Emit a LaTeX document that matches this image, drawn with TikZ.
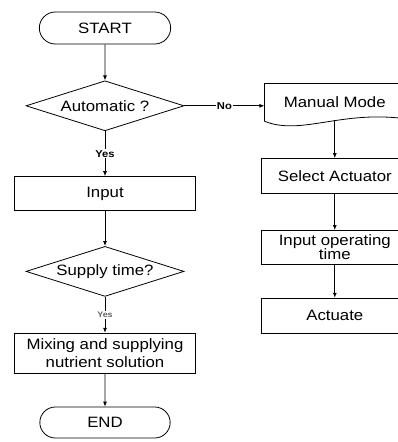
\documentclass[tikz,border=0pt]{standalone}
\usepackage{fontspec}
\setmainfont[FakeStretch=1.12]{Liberation Sans}
\usetikzlibrary{arrows.meta,positioning,shapes.geometric,shapes.misc}

\tikzset{
  every node/.style={font=\fontsize{15}{18}\selectfont},
  >={Latex[length=5pt,width=4pt]},
  terminal/.style={rounded rectangle, draw=black, minimum width=138pt, minimum height=32pt},
  process/.style={rectangle, draw=black, minimum width=181pt, minimum height=34pt, align=center},
  sideproc/.style={rectangle, draw=black, minimum width=146pt, minimum height=35pt, align=center},
  decision/.style={diamond, draw=black, aspect=3.16, minimum width=158pt, minimum height=50pt, inner sep=0pt},
  branch/.style={fill=white, inner sep=1pt, font=\fontsize{10}{12}\selectfont\bfseries},
  smallbranch/.style={fill=white, inner sep=1pt, text=black!60, font=\fontsize{8}{10}\selectfont\bfseries},
}

\begin{document}
\begin{tikzpicture}[line width=0.8pt]
  \useasboundingbox (-105pt,27pt) rectangle (292pt,-415pt);

  \node[terminal] (start) at (0,-1pt) {START};
  \node[decision, below=36pt of start] (auto) {Automatic ?};
  \node[process, below=45pt of auto] (input) {Input};
  \node[decision, below=35pt of input] (supply) {Supply time?};
  \node[process, below=36pt of supply, minimum height=40pt] (mix) {Mixing and supplying\\nutrient solution};
  \node[terminal, below=33pt of mix, minimum width=137pt, minimum height=31pt] (end) {END};

  % manual side, outline of the document box drawn by hand
  \node[sideproc, draw=none, right=80pt of auto, xshift=-3pt, yshift=4pt, minimum height=36pt] (manual) {Manual Mode};
  \node[sideproc, below=38pt of manual] (select) {Select Actuator};
  \node[sideproc, below=36pt of select, minimum height=34pt, inner sep=2pt, font=\fontsize{15}{14}\selectfont] (optime) {Input operating\\time};
  \node[sideproc, below=33pt of optime] (actuate) {Actuate};

  \draw ([shift={(3pt,-1pt)}]manual.south west) -- ([xshift=3pt]manual.north west) -- (manual.north east) -- ([yshift=1pt]manual.south east)
    .. controls +(-66pt,10pt) and +(37pt,-15pt) .. ([shift={(3pt,-1pt)}]manual.south west);

  \draw[->]
    (start) edge (auto)
    (auto) edge node[branch] {Yes} (input)
    (input) edge (supply)
    (supply) edge node[smallbranch] {Yes} (mix)
    (mix) edge (end)
    (manual) edge (select)
    (select) edge (optime)
    (optime) edge (actuate);
  \draw[->] (auto.east) -- node[branch] {No} ([xshift=3pt]auto.east -| manual.west);
\end{tikzpicture}
\end{document}
